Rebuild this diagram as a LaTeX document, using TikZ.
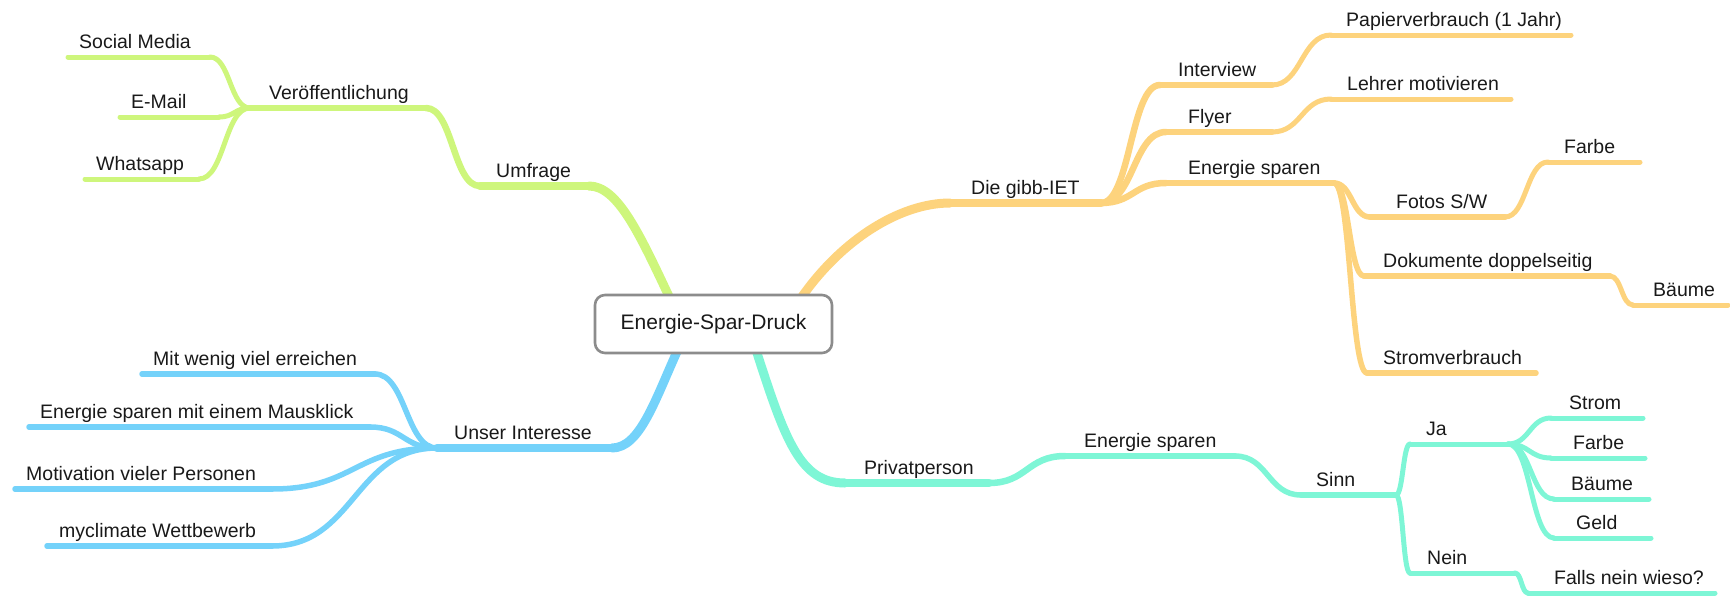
\documentclass[tikz,border=0pt]{standalone}
\usepackage{fontspec}
\setmainfont{Liberation Sans}
\usetikzlibrary{calc}
\pgfdeclarelayer{bg}
\pgfsetlayers{bg,main}
\definecolor{cG}{RGB}{206,246,124}
\definecolor{cO}{RGB}{253,211,125}
\definecolor{cB}{RGB}{116,210,250}
\definecolor{cT}{RGB}{126,246,214}
\definecolor{cBox}{RGB}{140,140,140}
\definecolor{cTxt}{RGB}{25,25,25}
\tikzset{
  lbl/.style={anchor=base west, inner sep=0pt, font=\fontsize{19.5}{22}\selectfont, text=cTxt},
  rootbox/.style={draw=cBox, line width=2.6pt, fill=white, rounded corners=10pt,
    minimum width=237pt, minimum height=58pt, inner sep=0pt,
    font=\fontsize{21}{24}\selectfont, text=cTxt},
  sc/.style={to path={let \p1=(\tikztostart), \p2=(\tikztotarget) in
     .. controls (\x1/2+\x2/2,\y1) and (\x1/2+\x2/2,\y2) .. (\tikztotarget)}},
  br/.style={line cap=round, line join=round},
  w0/.style={br, line width=9pt},
  w1/.style={br, line width=8.5pt},
  w2/.style={br, line width=6.5pt},
  w3/.style={br, line width=5.5pt},
  w4/.style={br, line width=5pt},
}
\begin{document}
\begin{tikzpicture}[x=1pt,y=-1pt]
\useasboundingbox (0,0) rectangle (1730,600);

% ---------- central node ----------
\node[rootbox] (root) at (713.5,324) {Energie-Spar-Druck};

% ---------- line coordinates ----------
% green
\coordinate (umA) at (589,186); \coordinate (umB) at (480,186);
\coordinate (voA) at (426,108); \coordinate (voB) at (250,108);
\coordinate (smA) at (210,57);  \coordinate (smB) at (68,57);
\coordinate (emA) at (219,117); \coordinate (emB) at (120,117);
\coordinate (waA) at (199,179); \coordinate (waB) at (85,179);
% blue
\coordinate (unA) at (612,448); \coordinate (unB) at (437,448);
\coordinate (mwA) at (375,374); \coordinate (mwB) at (142,374);
\coordinate (esA) at (370,427); \coordinate (esB) at (29,427);
\coordinate (moA) at (272,489); \coordinate (moB) at (15,489);
\coordinate (myA) at (272,546); \coordinate (myB) at (47,546);
% orange
\coordinate (giA) at (950,203);  \coordinate (giB) at (1101,203);
\coordinate (ivA) at (1160,85);  \coordinate (ivB) at (1272,85);
\coordinate (flA) at (1166,132); \coordinate (flB) at (1272,132);
\coordinate (enA) at (1166,183); \coordinate (enB) at (1334,183);
\coordinate (paA) at (1331,35);  \coordinate (paB) at (1571,35);
\coordinate (leA) at (1331,99);  \coordinate (leB) at (1511,99);
\coordinate (foA) at (1370,217); \coordinate (foB) at (1505,217);
\coordinate (faA) at (1548,162); \coordinate (faB) at (1640,162);
\coordinate (doA) at (1364,276); \coordinate (doB) at (1610,276);
\coordinate (baA) at (1633,305); \coordinate (baB) at (1728,305);
\coordinate (stA) at (1367,373); \coordinate (stB) at (1536,373);
% turquoise
\coordinate (prA) at (845,483);  \coordinate (prB) at (989,483);
\coordinate (epA) at (1065,456); \coordinate (epB) at (1235,456);
\coordinate (siA) at (1301,495); \coordinate (siB) at (1396,495);
\coordinate (jaA) at (1410,444); \coordinate (jaB) at (1508,444);
\coordinate (neA) at (1410,573); \coordinate (neB) at (1515,573);
\coordinate (srA) at (1551,418); \coordinate (srB) at (1643,418);
\coordinate (frA) at (1551,458); \coordinate (frB) at (1645,458);
\coordinate (bmA) at (1554,499); \coordinate (bmB) at (1649,499);
\coordinate (gdA) at (1554,538); \coordinate (gdB) at (1651,538);
\coordinate (fnA) at (1528,593); \coordinate (fnB) at (1715,593);

\begin{pgfonlayer}{bg}
% green branch
\draw[w0, cG] ([xshift=-42pt,yshift=-8pt]root.north) .. controls (640,235) and (618,186) .. (umA);
\draw[w1, cG] (umA) -- (umB);
\draw[w2, cG] (umB) to[sc] (voA);
\draw[w2, cG] (voA) -- (voB);
\draw[w4, cG] (voB) to[sc] (smA);
\draw[w4, cG] (smA) -- (smB);
\draw[w4, cG] (voB) to[sc] (emA);
\draw[w4, cG] (emA) -- (emB);
\draw[w4, cG] (voB) to[sc] (waA);
\draw[w4, cG] (waA) -- (waB);
% blue branch
\draw[w0, cB] ([xshift=-35pt,yshift=6pt]root.south) .. controls (655,400) and (640,448) .. (unA);
\draw[w1, cB] (unA) -- (unB);
\draw[w3, cB] (unB) to[sc] (mwA);
\draw[w3, cB] (mwA) -- (mwB);
\draw[w3, cB] (unB) to[sc] (esA);
\draw[w3, cB] (esA) -- (esB);
\draw[w3, cB] (unB) to[sc] (moA);
\draw[w3, cB] (moA) -- (moB);
\draw[w3, cB] (unB) to[sc] (myA);
\draw[w3, cB] (myA) -- (myB);
% orange branch
\draw[w0, cO] ([xshift=85pt,yshift=-8pt]root.north) .. controls (840,240) and (900,203) .. (giA);
\draw[w1, cO] (giA) -- (giB);
\draw[w2, cO] (giB) to[sc] (ivA);
\draw[w2, cO] (ivA) -- (ivB);
\draw[w2, cO] (giB) to[sc] (flA);
\draw[w2, cO] (flA) -- (flB);
\draw[w2, cO] (giB) to[sc] (enA);
\draw[w2, cO] (enA) -- (enB);
\draw[w4, cO] (ivB) to[sc] (paA);
\draw[w4, cO] (paA) -- (paB);
\draw[w4, cO] (flB) to[sc] (leA);
\draw[w4, cO] (leA) -- (leB);
\draw[w3, cO] (enB) to[sc] (foA);
\draw[w3, cO] (foA) -- (foB);
\draw[w3, cO] (enB) to[sc] (doA);
\draw[w3, cO] (doA) -- (doB);
\draw[w3, cO] (enB) to[sc] (stA);
\draw[w3, cO] (stA) -- (stB);
\draw[w4, cO] (foB) to[sc] (faA);
\draw[w4, cO] (faA) -- (faB);
\draw[w4, cO] (doB) to[sc] (baA);
\draw[w4, cO] (baA) -- (baB);
% turquoise branch
\draw[w0, cT] ([xshift=42pt,yshift=6pt]root.south) .. controls (785,440) and (800,483) .. (prA);
\draw[w1, cT] (prA) -- (prB);
\draw[w2, cT] (prB) to[sc] (epA);
\draw[w2, cT] (epA) -- (epB);
\draw[w3, cT] (epB) to[sc] (siA);
\draw[w3, cT] (siA) -- (siB);
\draw[w4, cT] (siB) to[sc] (jaA);
\draw[w4, cT] (jaA) -- (jaB);
\draw[w4, cT] (siB) to[sc] (neA);
\draw[w4, cT] (neA) -- (neB);
\draw[w4, cT] (jaB) to[sc] (srA);
\draw[w4, cT] (srA) -- (srB);
\draw[w4, cT] (jaB) to[sc] (frA);
\draw[w4, cT] (frA) -- (frB);
\draw[w4, cT] (jaB) to[sc] (bmA);
\draw[w4, cT] (bmA) -- (bmB);
\draw[w4, cT] (jaB) to[sc] (gdA);
\draw[w4, cT] (gdA) -- (gdB);
\draw[w4, cT] (neB) to[sc] (fnA);
\draw[w4, cT] (fnA) -- (fnB);
\end{pgfonlayer}

% ---------- labels ----------
\node[lbl] (tsm) at (79,48)   {Social Media};
\node[lbl] (tem) at (131,108) {E-Mail};
\node[lbl] (twa) at (96,170)  {Whatsapp};
\node[lbl] (tvo) at (269,99)  {Veröffentlichung};
\node[lbl] (tum) at (496,177) {Umfrage};

\node[lbl] (tmw) at (153,365) {Mit wenig viel erreichen};
\node[lbl] (tes) at (40,418)  {Energie sparen mit einem Mausklick};
\node[lbl] (tmo) at (26,480)  {Motivation vieler Personen};
\node[lbl] (tmy) at (59,537)  {myclimate Wettbewerb};
\node[lbl] (tun) at (454,439) {Unser Interesse};

\node[lbl] (tgi) at (971,194)  {Die gibb-IET};
\node[lbl] (tiv) at (1178,76)  {Interview};
\node[lbl] (tfl) at (1188,123) {Flyer};
\node[lbl] (ten) at (1188,174) {Energie sparen};
\node[lbl] (tpa) at (1346,26)  {Papierverbrauch (1 Jahr)};
\node[lbl] (tle) at (1347,90)  {Lehrer motivieren};
\node[lbl] (tfo) at (1396,208) {Fotos S/W};
\node[lbl] (tfa) at (1564,153) {Farbe};
\node[lbl] (tdo) at (1383,267) {Dokumente doppelseitig};
\node[lbl] (tba) at (1653,296) {Bäume};
\node[lbl] (tst) at (1383,364) {Stromverbrauch};

\node[lbl] (tpr) at (864,474)  {Privatperson};
\node[lbl] (tep) at (1084,447) {Energie sparen};
\node[lbl] (tsi) at (1316,486) {Sinn};
\node[lbl] (tja) at (1426,435) {Ja};
\node[lbl] (tne) at (1427,564) {Nein};
\node[lbl] (tsr) at (1569,409) {Strom};
\node[lbl] (tfr) at (1573,449) {Farbe};
\node[lbl] (tbm) at (1571,490) {Bäume};
\node[lbl] (tgd) at (1576,529) {Geld};
\node[lbl] (tfn) at (1554,584) {Falls nein wieso?};
\end{tikzpicture}
\end{document}
